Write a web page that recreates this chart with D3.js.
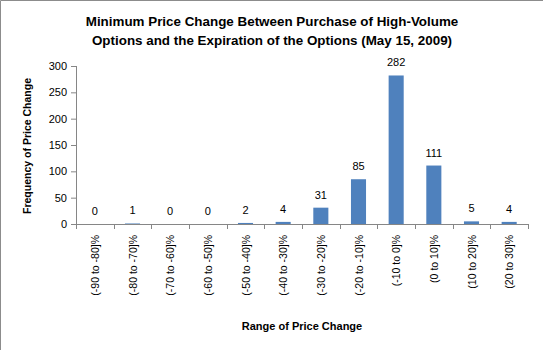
<!DOCTYPE html>
<html>
<head>
<meta charset="utf-8">
<script src="https://cdn.jsdelivr.net/npm/d3@7"></script>
<style>
  body { margin: 0; background: #fff; }
  svg text { font-family: "Liberation Sans", Arial, sans-serif; fill: #000; }
  .axis path, .axis line { stroke: #868686; }
</style>
</head>
<body>
<svg id="chart" width="543" height="350"></svg>
<script>
const categories = ["(-90 to -80]%", "(-80 to -70]%", "(-70 to -60]%", "(-60 to -50]%",
  "(-50 to -40]%", "(-40 to -30]%", "(-30 to -20]%", "(-20 to -10]%",
  "(-10 to 0]%", "(0 to 10]%", "(10 to 20]%", "(20 to 30]%"];
const frequencies = [0, 1, 0, 0, 2, 4, 31, 85, 282, 111, 5, 4];
const yTicks = [0, 50, 100, 150, 200, 250, 300];
const titleLines = ["Minimum Price Change Between Purchase of High-Volume",
  "Options and the Expiration of the Options (May 15, 2009)"];

const svg = d3.select("#chart");
const margin = { top: 66, right: 15, bottom: 126, left: 76 };
const width = 543 - margin.left - margin.right;
const height = 350 - margin.top - margin.bottom;

// chart frame (left and top edge only, like the source image)
svg.append("path")
  .attr("d", "M0.5,350V0.5H543")
  .attr("fill", "none")
  .attr("stroke", "#8c8c8c");

const x = d3.scaleBand()
  .domain(categories)
  .range([margin.left, margin.left + width])
  .paddingInner(0.6)
  .paddingOuter(0.3);

const y = d3.scaleLinear()
  .domain([0, 300])
  .range([margin.top + height, margin.top]);

// title
svg.append("text")
  .attr("x", 272)
  .attr("y", 26)
  .attr("text-anchor", "middle")
  .style("font-weight", "bold")
  .style("font-size", "13.4px")
  .selectAll("tspan")
  .data(titleLines)
  .enter().append("tspan")
  .attr("x", 272)
  .attr("dy", (d, i) => i === 0 ? 0 : 19)
  .text(d => d);

// y axis
const yAxis = svg.append("g")
  .attr("class", "axis")
  .attr("transform", `translate(${margin.left},0)`)
  .call(d3.axisLeft(y).tickValues(yTicks).tickSize(5).tickPadding(4));
yAxis.selectAll("text").style("font-size", "11px");
yAxis.select(".domain").attr("d", `M0.5,${y(0)}V${y(300)}`);

// x axis: ticks at band boundaries
const bounds = d3.range(categories.length + 1).map(i => margin.left + i * width / categories.length);
const xAxis = svg.append("g").attr("class", "axis");
xAxis.append("line")
  .attr("x1", margin.left).attr("x2", margin.left + width)
  .attr("y1", y(0) + 0.5).attr("y2", y(0) + 0.5);
xAxis.selectAll(".tick")
  .data(bounds)
  .enter().append("line")
  .attr("x1", d => Math.round(d) + 0.5).attr("x2", d => Math.round(d) + 0.5)
  .attr("y1", y(0)).attr("y2", y(0) + 5);

const xc = d => x(d) + x.bandwidth() / 2;

xAxis.selectAll(".cat")
  .data(categories)
  .enter().append("text")
  .attr("transform", d => `translate(${xc(d) + 4},${y(0) + 11}) rotate(-90)`)
  .attr("text-anchor", "end")
  .style("font-size", "10.5px")
  .text(d => d);

// bars
svg.selectAll(".bar")
  .data(frequencies)
  .enter().append("rect")
  .attr("class", "bar")
  .attr("x", (d, i) => x(categories[i]))
  .attr("y", d => y(d))
  .attr("width", x.bandwidth())
  .attr("height", d => y(0) - y(d))
  .attr("fill", "#4f81bd");

// value labels
svg.selectAll(".val")
  .data(frequencies)
  .enter().append("text")
  .attr("x", (d, i) => xc(categories[i]))
  .attr("y", d => y(d) - 9)
  .attr("text-anchor", "middle")
  .style("font-size", "11px")
  .text(d => d);

// axis titles
svg.append("text")
  .attr("transform", `translate(31,146) rotate(-90)`)
  .attr("text-anchor", "middle")
  .style("font-weight", "bold")
  .style("font-size", "10.5px")
  .text("Frequency of Price Change");

svg.append("text")
  .attr("x", margin.left + width / 2)
  .attr("y", 330)
  .attr("text-anchor", "middle")
  .style("font-weight", "bold")
  .style("font-size", "11px")
  .text("Range of Price Change");
</script>
</body>
</html>
